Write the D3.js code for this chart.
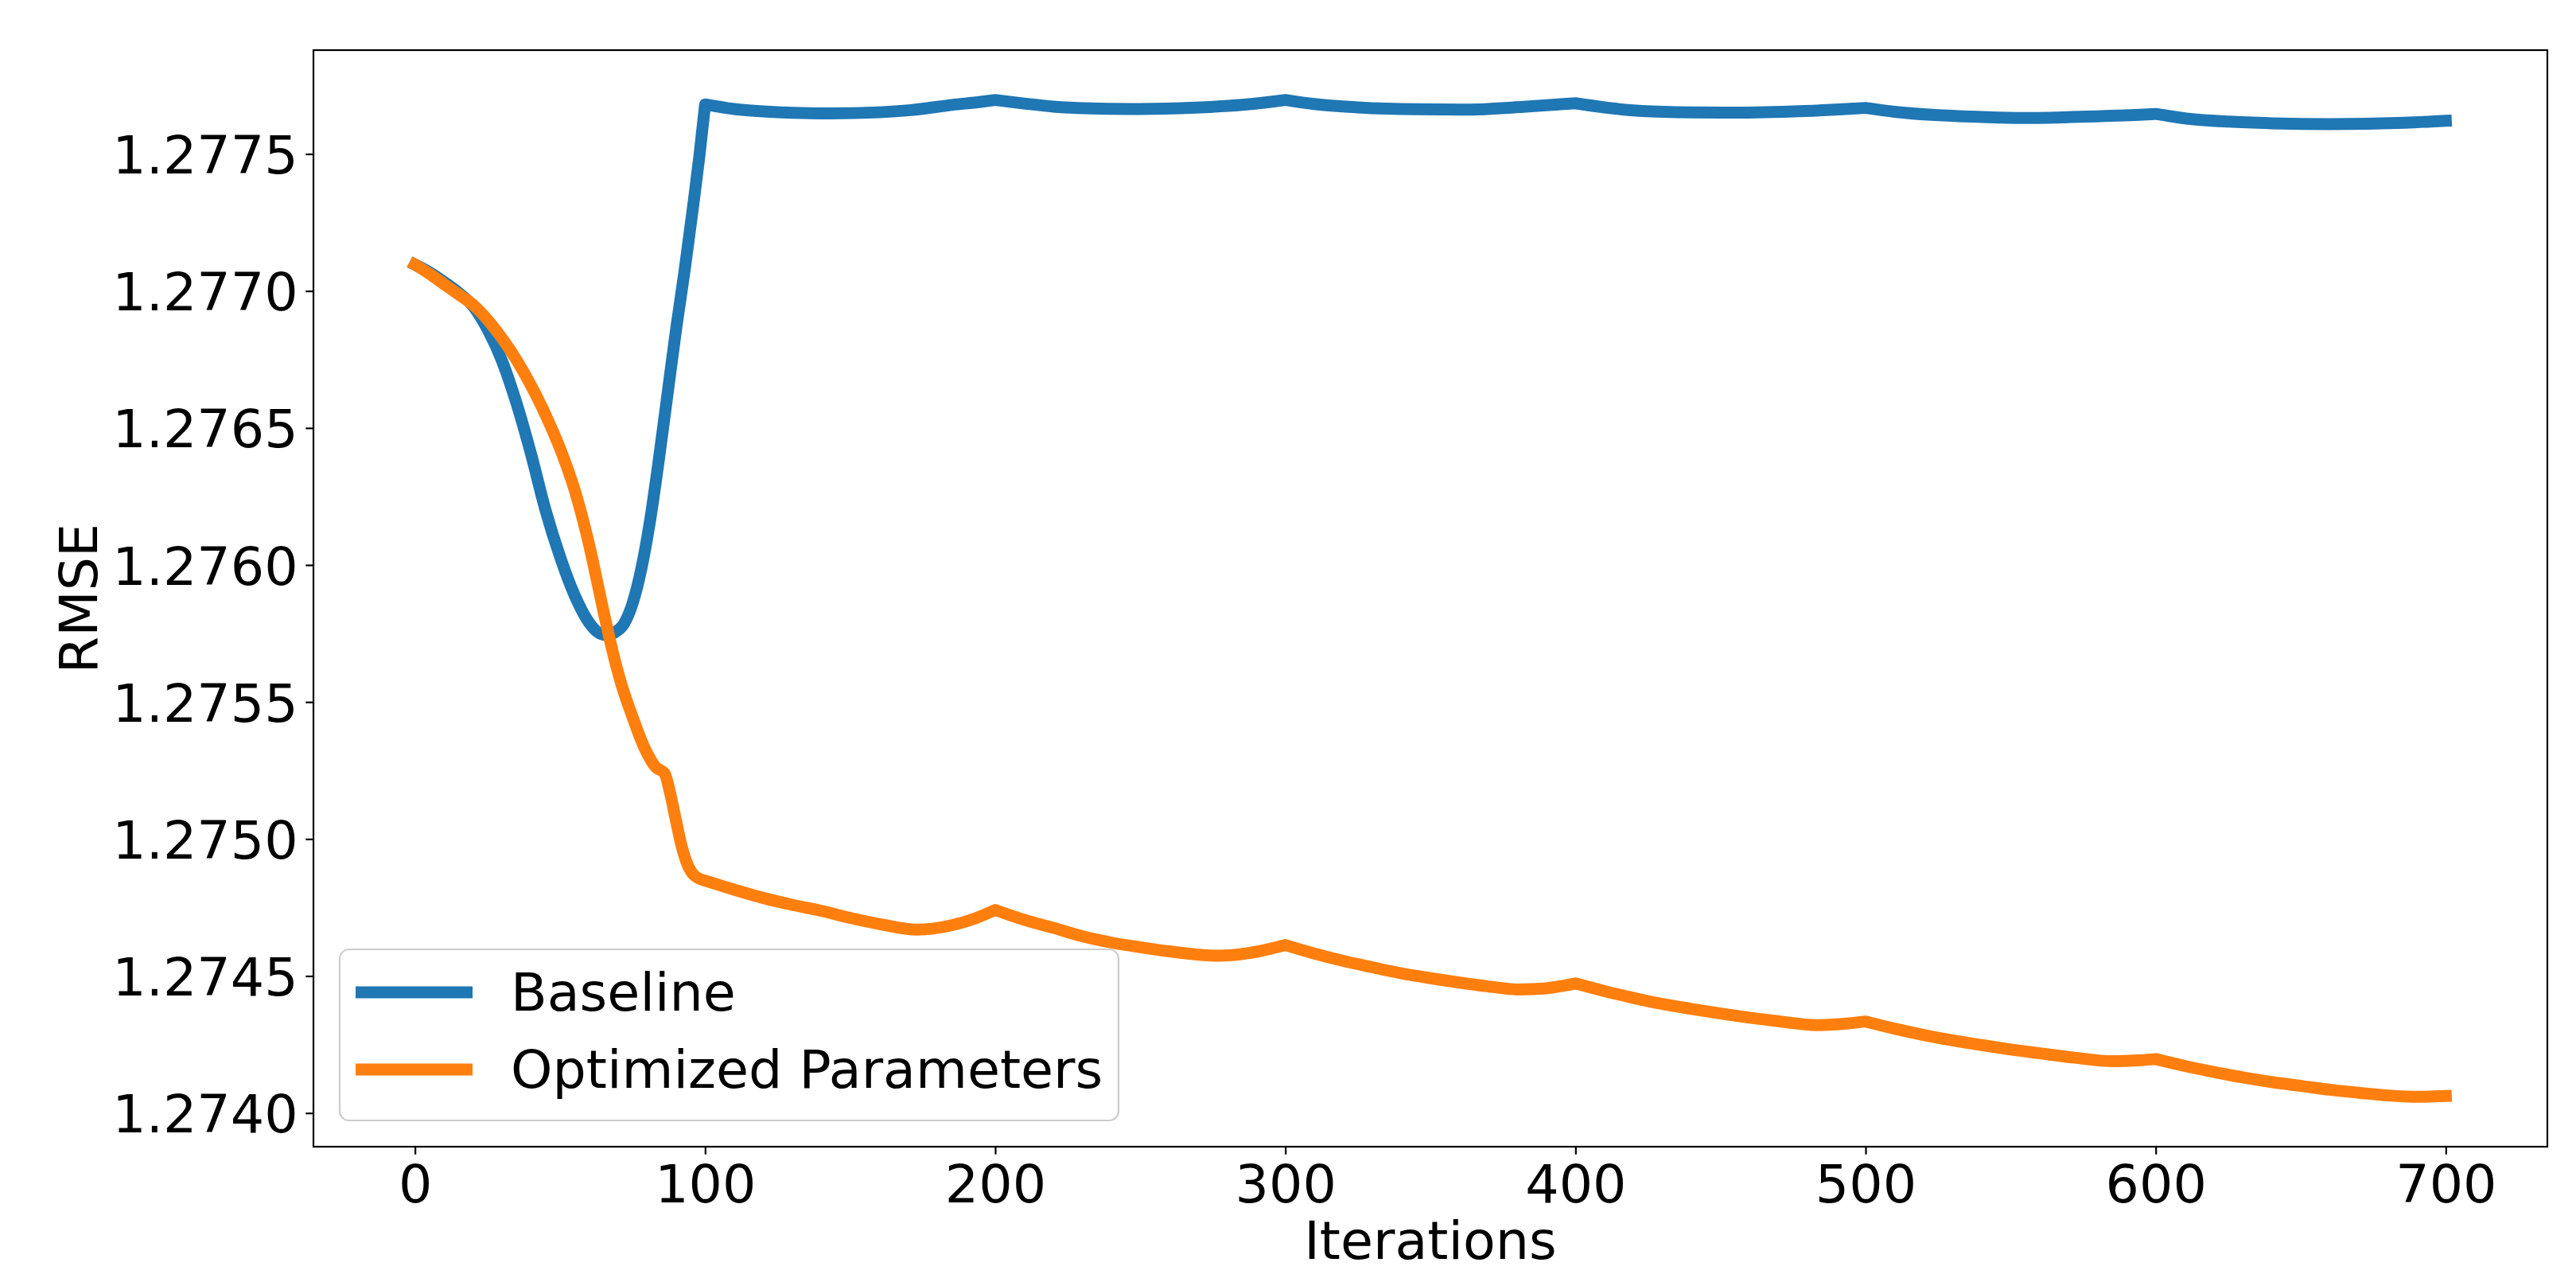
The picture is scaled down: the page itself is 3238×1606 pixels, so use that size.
<!DOCTYPE html>
<html lang="en">
<head>
  <meta charset="UTF-8">
  <title>RMSE vs Iterations</title>
  <script src="https://d3js.org/d3.v7.min.js"></script>
  <style>
    body {
      margin: 0;
      background: #ffffff;
    }
    svg text {
      font-family: "DejaVu Sans", sans-serif;
      fill: #000;
    }
  </style>
</head>
<body>
  <div id="chart"></div>

  <script>
    // values
    const baselineIters = [0, 5, 10, 15, 20, 25, 30, 35, 40, 45, 50, 55, 60, 63, 66, 69, 72, 75, 78, 81, 84, 87, 90, 93, 96, 98,
      100, 110, 120, 130, 143, 160, 171, 185, 195,
      200, 210, 220, 239, 250, 269, 285, 295,
      300, 310, 325, 345, 362, 382, 393,
      400, 410, 423, 440, 455, 479, 492,
      500, 510, 524, 540, 556, 581, 593,
      600, 610, 625, 640, 660, 686, 700];
    const baselineRmse = [1.277096, 1.277068, 1.277033, 1.276994, 1.276945, 1.276860, 1.276745, 1.276590, 1.276405, 1.276200,
      1.276030, 1.275890, 1.275790, 1.275755, 1.275744, 1.275755, 1.275785, 1.275860, 1.275985, 1.276160, 1.276380, 1.276620,
      1.276860, 1.277080, 1.277320, 1.277490,
      1.277681, 1.277664, 1.277655, 1.277650, 1.277648, 1.277652, 1.277660, 1.277679, 1.277690,
      1.277697, 1.277684, 1.277673, 1.277665, 1.277664, 1.277669, 1.277679, 1.277690,
      1.277697, 1.277682, 1.277670, 1.277663, 1.277662, 1.277672, 1.277680,
      1.277685, 1.277670, 1.277657, 1.277652, 1.277651, 1.277657, 1.277663,
      1.277668, 1.277654, 1.277642, 1.277635, 1.277631, 1.277638, 1.277642,
      1.277646, 1.277630, 1.277618, 1.277612, 1.277609, 1.277614, 1.277621];

    const optimizedIters = [0, 5, 10, 15, 20, 25, 30, 35, 40, 45, 50, 55, 60, 65, 68, 71, 75, 79, 83, 86, 88, 90, 92, 94, 96,
      100, 110, 120, 130, 140, 150, 160, 173, 185, 193,
      200, 210, 220, 230, 240, 250, 260, 270, 277, 287, 295,
      300, 310, 320, 330, 340, 350, 360, 370, 380, 390, 396,
      400, 410, 420, 430, 440, 450, 460, 470, 483, 492,
      500, 510, 520, 530, 540, 550, 560, 572, 585, 595,
      600, 610, 620, 630, 640, 650, 660, 670, 680, 690, 700];
    const optimizedRmse = [1.277096, 1.277063, 1.277025, 1.276988, 1.276950, 1.276895, 1.276827, 1.276748, 1.276655, 1.276548,
      1.276425, 1.276275, 1.276075, 1.275830, 1.275690, 1.275570, 1.275445, 1.275335, 1.275262, 1.275240, 1.275165, 1.275065,
      1.274970, 1.274905, 1.274870,
      1.274848, 1.274815, 1.274785, 1.274760, 1.274738, 1.274712, 1.274690, 1.274669, 1.274685, 1.274710,
      1.274741, 1.274705, 1.274676, 1.274645, 1.274622, 1.274605, 1.274590, 1.274578, 1.274574, 1.274583, 1.274600,
      1.274613, 1.274582, 1.274555, 1.274532, 1.274510, 1.274492, 1.274476, 1.274462, 1.274451, 1.274455, 1.274465,
      1.274473, 1.274445, 1.274420, 1.274398, 1.274380, 1.274363, 1.274348, 1.274335, 1.274321, 1.274325,
      1.274334, 1.274308, 1.274285, 1.274265, 1.274248, 1.274232, 1.274218, 1.274202, 1.274189, 1.274193,
      1.274197, 1.274172, 1.274150, 1.274130, 1.274113, 1.274099, 1.274085, 1.274074, 1.274064, 1.274059, 1.274062];

    const xTicks = [0, 100, 200, 300, 400, 500, 600, 700];
    const yTicks = [1.2740, 1.2745, 1.2750, 1.2755, 1.2760, 1.2765, 1.2770, 1.2775];
    const seriesNames = ["Baseline", "Optimized Parameters"];
    const seriesColors = ["#1f77b4", "#ff7f0e"];
    // the curves restart (kink) at every 100 iterations
    const kinks = [100, 200, 300, 400, 500, 600];

    const W = 3238, H = 1606;
    const margin = { top: 63, right: 36, bottom: 165, left: 394 };
    const plotW = W - margin.left - margin.right;
    const plotH = H - margin.top - margin.bottom;
    const fontPx = 66.7;
    const tickLen = 9.7;
    const spine = 2.2;
    const lw = 15;

    const series = [
      { name: seriesNames[0], color: seriesColors[0], pts: baselineIters.map((x, i) => ({ x, y: baselineRmse[i] })) },
      { name: seriesNames[1], color: seriesColors[1], pts: optimizedIters.map((x, i) => ({ x, y: optimizedRmse[i] })) }
    ];

    // matplotlib style 5% margins
    const allY = baselineRmse.concat(optimizedRmse);
    const yMin = d3.min(allY), yMax = d3.max(allY);
    const yPad = (yMax - yMin) * 0.05;
    const xPad = 700 * 0.05;

    const x = d3.scaleLinear().domain([0 - xPad, 700 + xPad]).range([0, plotW]);
    const y = d3.scaleLinear().domain([yMin - yPad, yMax + yPad]).range([plotH, 0]);

    const svg = d3.select("#chart")
      .append("svg")
      .attr("width", W)
      .attr("height", H)
      .style("display", "block");

    svg.append("rect").attr("width", W).attr("height", H).attr("fill", "#fff");

    const g = svg.append("g")
      .attr("transform", `translate(${margin.left},${margin.top})`);

    // smooth pieces between kinks, stitched into one path
    const line = d3.line()
      .x(d => x(d.x))
      .y(d => y(d.y))
      .curve(d3.curveMonotoneX);

    function kinkedPath(pts) {
      const bounds = [pts[0].x, ...kinks, pts[pts.length - 1].x];
      let d = "";
      for (let i = 0; i < bounds.length - 1; i++) {
        const seg = pts.filter(p => p.x >= bounds[i] && p.x <= bounds[i + 1]);
        const s = line(seg);
        d += i === 0 ? s : "L" + s.slice(1);
      }
      return d;
    }

    series.forEach(s => {
      g.append("path")
        .attr("fill", "none")
        .attr("stroke", s.color)
        .attr("stroke-width", lw)
        .attr("stroke-linejoin", "round")
        .attr("stroke-linecap", "square")
        .attr("d", kinkedPath(s.pts));
    });

    // axes
    const xAxis = g.append("g")
      .attr("transform", `translate(0,${plotH})`)
      .call(d3.axisBottom(x).tickValues(xTicks).tickSize(tickLen).tickPadding(9.7).tickFormat(d3.format("d")));

    const yAxis = g.append("g")
      .call(d3.axisLeft(y).tickValues(yTicks).tickSize(tickLen).tickPadding(9.7).tickFormat(d3.format(".4f")));

    [xAxis, yAxis].forEach(ax => {
      ax.select(".domain").remove();
      ax.selectAll(".tick line").attr("stroke", "#000").attr("stroke-width", spine);
      ax.selectAll(".tick text")
        .style("font-size", fontPx + "px")
        .style("font-family", "'DejaVu Sans', sans-serif");
    });
    xAxis.selectAll(".tick text").attr("dy", "0.76em");
    yAxis.selectAll(".tick text").attr("dy", "0.36em");

    // frame
    g.append("rect")
      .attr("width", plotW)
      .attr("height", plotH)
      .attr("fill", "none")
      .attr("stroke", "#000")
      .attr("stroke-width", spine);

    // axis labels
    svg.append("text")
      .attr("x", margin.left + plotW / 2)
      .attr("y", 1582)
      .attr("text-anchor", "middle")
      .style("font-size", fontPx + "px")
      .text("Iterations");

    svg.append("text")
      .attr("transform", `translate(122,${margin.top + plotH / 2}) rotate(-90)`)
      .attr("text-anchor", "middle")
      .style("font-size", fontPx + "px")
      .text("RMSE");

    // legend, lower left
    const legend = svg.append("g").attr("transform", "translate(427,1193)");
    legend.append("rect")
      .attr("width", 979)
      .attr("height", 215)
      .attr("rx", 12)
      .attr("fill", "#fff")
      .attr("fill-opacity", 0.8)
      .attr("stroke", "#cccccc")
      .attr("stroke-width", spine);

    series.forEach((s, i) => {
      const ly = 54 + i * 97;
      legend.append("line")
        .attr("x1", 20).attr("x2", 167)
        .attr("y1", ly).attr("y2", ly)
        .attr("stroke", s.color)
        .attr("stroke-width", lw);
      legend.append("text")
        .attr("x", 215)
        .attr("y", ly + 23)
        .style("font-size", fontPx + "px")
        .text(s.name);
    });
  </script>
</body>
</html>
